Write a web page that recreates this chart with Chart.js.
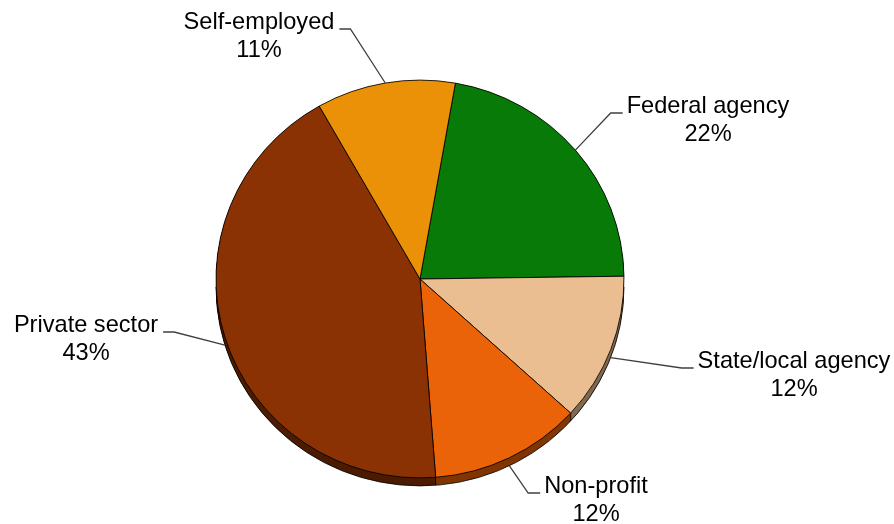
<!DOCTYPE html>
<html>
<head>
<meta charset="utf-8">
<script src="https://cdn.jsdelivr.net/npm/chart.js@4/dist/chart.umd.min.js"></script>
<style>
html,body{margin:0;padding:0;background:#fff;}
canvas{display:block;}
</style>
</head>
<body>
<canvas id="c" width="894" height="524"></canvas>
<script>
const categories = ['Federal agency', 'State/local agency', 'Non-profit', 'Private sector', 'Self-employed'];
const shares = [22, 12, 12, 43, 11];
const percentLabels = ['22%', '12%', '12%', '43%', '11%'];
const sliceColors = ['#077A07', '#EBBE92', '#EA6308', '#8B3205', '#EA9108'];

// label layout: text centre x, first baseline y, side of elbow
const labelLayout = [
  {x: 708, y: 113, side: 'left'},
  {x: 794, y: 368, side: 'left'},
  {x: 596, y: 493, side: 'left'},
  {x: 86,  y: 332, side: 'right'},
  {x: 259, y: 29,  side: 'right'}
];

const DEPTH = 8;
const YSCALE = 0.975;

function darken(hex, f) {
  const n = parseInt(hex.slice(1), 16);
  const r = Math.round(((n >> 16) & 255) * f), g = Math.round(((n >> 8) & 255) * f), b = Math.round((n & 255) * f);
  return 'rgb(' + r + ',' + g + ',' + b + ')';
}

const pie3d = {
  id: 'pie3d',
  beforeDatasetsDraw(chart) {
    const ctx = chart.ctx;
    const arcs = chart.getDatasetMeta(0).data;
    if (!arcs.length) return;
    const cx = arcs[0].x, cy = arcs[0].y;
    ctx.save();
    ctx.translate(cx, cy); ctx.scale(1, YSCALE); ctx.translate(-cx, -cy);
    const d = DEPTH / YSCALE;
    for (let k = d; k >= 0; k -= 0.5) {
      arcs.forEach((a, i) => {
        ctx.beginPath();
        ctx.moveTo(cx, cy + k);
        ctx.arc(cx, cy + k, a.outerRadius, a.startAngle, a.endAngle);
        ctx.closePath();
        ctx.fillStyle = darken(sliceColors[i], 0.55);
        ctx.fill();
      });
    }
    ctx.beginPath();
    ctx.arc(cx, cy + d, arcs[0].outerRadius, 0, Math.PI);
    ctx.strokeStyle = 'rgba(0,0,0,0.8)';
    ctx.lineWidth = 1;
    ctx.stroke();
    arcs.forEach(a => {
      let ang = a.startAngle % (2 * Math.PI);
      if (ang < 0) ang += 2 * Math.PI;
      if (ang > 0 && ang < Math.PI) {
        const px = cx + a.outerRadius * Math.cos(ang), py = cy + a.outerRadius * Math.sin(ang);
        ctx.beginPath(); ctx.moveTo(px, py); ctx.lineTo(px, py + d); ctx.stroke();
      }
    });
  },
  afterDatasetsDraw(chart) {
    chart.ctx.restore();
    const ctx = chart.ctx;
    const arcs = chart.getDatasetMeta(0).data;
    const cx = arcs[0].x, cy = arcs[0].y;
    ctx.save();
    ctx.font = '23.6px "Liberation Sans", Arial, sans-serif';
    ctx.fillStyle = '#000';
    ctx.textAlign = 'center';
    ctx.textBaseline = 'alphabetic';
    ctx.strokeStyle = '#404040';
    ctx.lineWidth = 1.3;
    arcs.forEach((a, i) => {
      const mid = (a.startAngle + a.endAngle) / 2;
      const r = a.outerRadius;
      let ax = cx + r * Math.cos(mid);
      let ay = cy + r * Math.sin(mid) * YSCALE;
      if (Math.sin(mid) > 0.15) ay += DEPTH;
      const L = labelLayout[i];
      const w = ctx.measureText(categories[i]).width;
      const ey = L.y;
      const ex0 = L.side === 'left' ? L.x - w / 2 - 4 : L.x + w / 2 + 5;
      const ex1 = L.side === 'left' ? ex0 - 12 : ex0 + 11;
      ctx.beginPath();
      ctx.moveTo(ex0, ey); ctx.lineTo(ex1, ey); ctx.lineTo(ax, ay);
      ctx.stroke();
      ctx.fillText(categories[i], L.x, L.y);
      ctx.fillText(percentLabels[i], L.x, L.y + 28);
    });
    ctx.restore();
  }
};

new Chart(document.getElementById('c'), {
  type: 'pie',
  data: {
    labels: categories,
    datasets: [{
      data: shares,
      backgroundColor: sliceColors,
      borderColor: 'rgba(0,0,0,0.85)',
      borderWidth: 1
    }]
  },
  options: {
    responsive: false,
    animation: false,
    rotation: 10,
    layout: {padding: {left: 215.5, right: 269.5, top: 74.5, bottom: 40.5}},
    plugins: {legend: {display: false}, tooltip: {enabled: false}}
  },
  plugins: [pie3d]
});
</script>
</body>
</html>
